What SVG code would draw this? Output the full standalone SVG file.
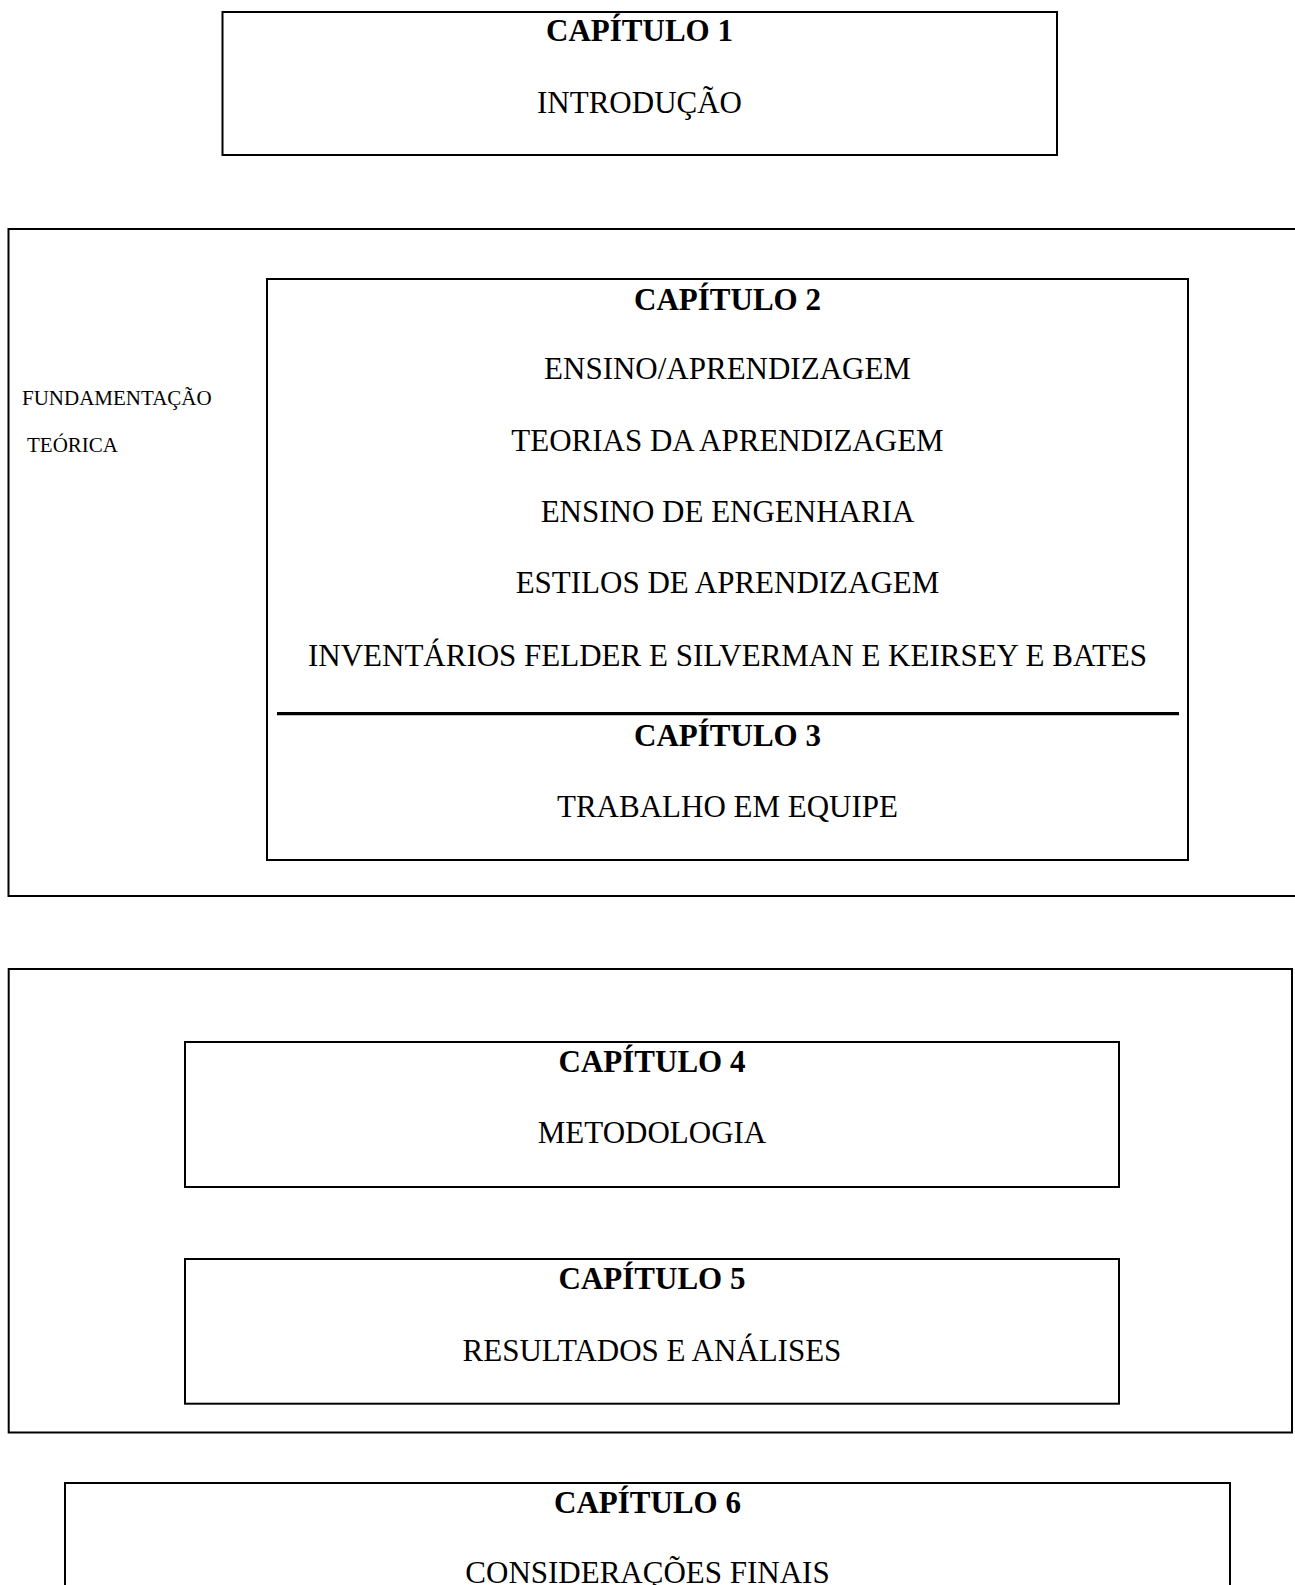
<svg xmlns="http://www.w3.org/2000/svg" width="1295" height="1585" viewBox="0 0 1295 1585">
<style>
.box{fill:none;stroke:#000;stroke-width:2}
.h{font-family:"Liberation Serif","Times New Roman",serif;font-weight:bold;font-size:31px;text-anchor:middle;fill:#000}
.t{font-family:"Liberation Serif","Times New Roman",serif;font-size:31px;text-anchor:middle;fill:#000}
.s{font-family:"Liberation Serif","Times New Roman",serif;font-size:21px;fill:#000}
</style>
<rect width="1295" height="1585" fill="#fff"/>
<g id="cap1">
<rect class="box" x="222.5" y="12" width="834.5" height="143"/>
<text class="h" x="639.5" y="41">CAPÍTULO 1</text>
<text class="t" x="639.5" y="113">INTRODUÇÃO</text>
</g>
<g id="fundamentacao">
<rect class="box" x="8.5" y="229" width="1300" height="667"/>
<text class="s" x="22" y="405">FUNDAMENTAÇÃO</text>
<text class="s" x="27" y="452">TEÓRICA</text>
</g>
<g id="cap2-3">
<rect class="box" x="267" y="279" width="921" height="581"/>
<text class="h" x="727.5" y="310">CAPÍTULO 2</text>
<text class="t" x="727.5" y="379">ENSINO/APRENDIZAGEM</text>
<text class="t" x="727.5" y="451">TEORIAS DA APRENDIZAGEM</text>
<text class="t" x="727.5" y="522">ENSINO DE ENGENHARIA</text>
<text class="t" x="727.5" y="593">ESTILOS DE APRENDIZAGEM</text>
<text class="t" x="727.5" y="666">INVENTÁRIOS FELDER E SILVERMAN E KEIRSEY E BATES</text>
<line x1="277" y1="713.7" x2="1179" y2="713.7" stroke="#000" stroke-width="3.3"/>
<text class="h" x="727.5" y="746">CAPÍTULO 3</text>
<text class="t" x="727.5" y="817">TRABALHO EM EQUIPE</text>
</g>
<g id="grupo-4-5">
<rect class="box" x="8.7" y="969" width="1283.3" height="463.5"/>
</g>
<g id="cap4">
<rect class="box" x="185" y="1042" width="934" height="145"/>
<text class="h" x="652" y="1072">CAPÍTULO 4</text>
<text class="t" x="652" y="1143">METODOLOGIA</text>
</g>
<g id="cap5">
<rect class="box" x="185" y="1259" width="934" height="144.7"/>
<text class="h" x="652" y="1289">CAPÍTULO 5</text>
<text class="t" x="652" y="1361">RESULTADOS E ANÁLISES</text>
</g>
<g id="cap6">
<rect class="box" x="65" y="1483" width="1165" height="200"/>
<text class="h" x="647.5" y="1513">CAPÍTULO 6</text>
<text class="t" x="647.5" y="1583">CONSIDERAÇÕES FINAIS</text>
</g>
<g id="connectors"></g>
</svg>
